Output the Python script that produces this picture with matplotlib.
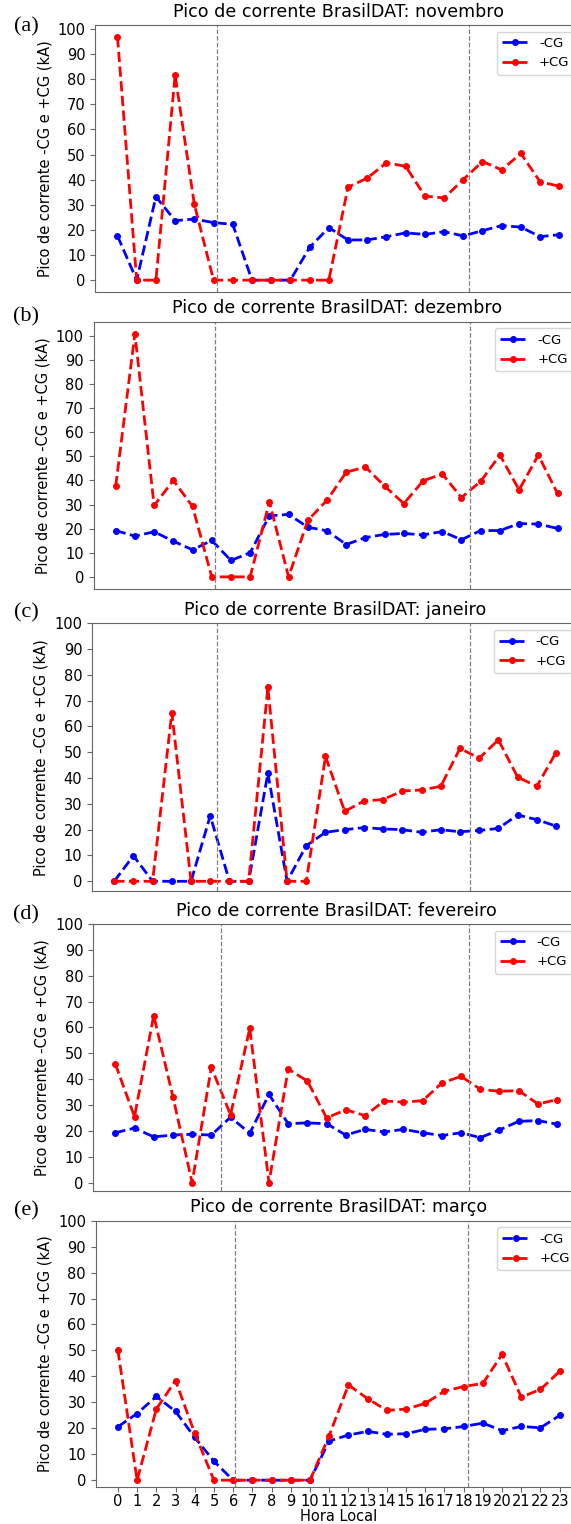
import numpy as np
import matplotlib
matplotlib.use('Agg')
import matplotlib.pyplot as plt

hours = list(range(24))
months = ['novembro', 'dezembro', 'janeiro', 'fevereiro', 'março']
letters = ['(a)', '(b)', '(c)', '(d)', '(e)']

# peak current (kA) per local hour
neg_nov = [17.6, 0, 33.2, 23.7, 24.3, 22.9, 22.2, 0, 0, 0, 13.0, 20.9,
           16.0, 16.0, 17.3, 18.8, 18.2, 19.3, 17.6, 19.7, 21.7, 21.1, 17.3, 18.1]
pos_nov = [96.7, 0, 0, 81.6, 30.2, 0, 0, 0, 0, 0, 0, 0,
           37.0, 40.6, 46.7, 45.3, 33.5, 32.7, 40.0, 47.2, 43.9, 50.4, 39.1, 37.4]

neg_dez = [19.2, 16.9, 18.7, 14.8, 11.2, 15.1, 6.8, 10.0, 25.3, 25.9, 20.6, 19.1,
           13.4, 16.3, 17.6, 18.0, 17.4, 18.8, 15.4, 19.2, 19.2, 22.1, 21.9, 20.1]
pos_dez = [37.6, 100.8, 29.6, 40.0, 29.2, 0, 0, 0, 31.1, 0, 23.4, 31.8,
           43.4, 45.6, 37.6, 30.4, 39.8, 42.7, 32.9, 39.6, 50.5, 36.1, 50.5, 34.6]

neg_jan = [0, 9.9, 0, 0, 0, 25.4, 0, 0, 41.9, 0, 13.8, 19.0,
           20.0, 20.8, 20.3, 20.0, 19.0, 20.0, 19.2, 19.7, 20.5, 25.7, 23.9, 21.4]
pos_jan = [0, 0, 0, 65.4, 0, 0, 0, 0, 75.2, 0, 0, 48.4,
           27.1, 31.1, 31.7, 35.0, 35.4, 36.8, 51.5, 47.7, 54.8, 40.4, 36.8, 49.9]

neg_fev = [19.3, 21.1, 17.7, 18.4, 18.7, 18.4, 25.3, 19.1, 34.1, 22.8, 23.1, 22.8,
           18.4, 20.6, 19.6, 20.6, 19.3, 18.2, 19.3, 17.4, 20.4, 23.7, 24.0, 22.6]
pos_fev = [45.9, 25.5, 64.6, 33.2, 0, 44.6, 26.2, 59.7, 0, 43.9, 39.3, 25.0,
           28.2, 25.9, 31.6, 31.1, 31.7, 38.5, 41.1, 36.1, 35.3, 35.6, 30.4, 32.1]

neg_mar = [20.6, 25.7, 32.3, 26.5, 16.5, 7.3, 0, 0, 0, 0, 0, 15.1,
           17.4, 18.8, 17.7, 17.9, 19.6, 19.8, 20.7, 22.0, 19.1, 20.7, 20.2, 25.0]
pos_mar = [50.1, 0, 27.4, 38.4, 18.1, 0, 0, 0, 0, 0, 0, 17.2,
           36.7, 31.4, 26.9, 27.4, 29.6, 34.3, 36.1, 37.3, 48.5, 32.0, 35.0, 42.0]

neg_cg = [neg_nov, neg_dez, neg_jan, neg_fev, neg_mar]
pos_cg = [pos_nov, pos_dez, pos_jan, pos_fev, pos_mar]

# sunrise / sunset (local hour)
sunrise = [5.16, 5.15, 5.36, 5.51, 6.11]
sunset = [18.28, 18.44, 18.51, 18.42, 18.20]

W, H = 571, 1524
# axes boxes in pixels: left, top, bottom (right side runs off the page)
boxes = [(95.4, 25, 292.3), (93.6, 321.7, 589), (92.1, 623.3, 891),
         (93.2, 924, 1191), (95.8, 1220.7, 1486.7)]
label_y = [26.5, 317, 613, 914.5, 1210.5]
axw = 486

plt.rcParams['font.size'] = 10.5
fig = plt.figure(figsize=(W / 100, H / 100), dpi=100)

for i, month in enumerate(months):
    left, top, bottom = boxes[i]
    ax = fig.add_axes([left / W, 1 - bottom / H, axw / W, (bottom - top) / H])
    ax.plot(hours, neg_cg[i], color='blue', linestyle='--', marker='o',
            markersize=4, linewidth=2, label='-CG')
    ax.plot(hours, pos_cg[i], color='red', linestyle='--', marker='o',
            markersize=4, linewidth=2, label='+CG')
    ax.axvline(sunrise[i], color='gray', linestyle='--', linewidth=0.9)
    ax.axvline(sunset[i], color='gray', linestyle='--', linewidth=0.9)
    ax.autoscale_view()
    lo, hi = ax.get_ylim()
    ax.set_ylim(lo, max(hi, 100))
    ax.set_yticks(range(0, 101, 10))
    ax.set_xlim(-1.15, 24.15)
    ax.set_title(f'Pico de corrente BrasilDAT: {month}')
    ax.set_ylabel('Pico de corrente -CG e +CG (kA)')
    ax.legend(loc='upper right', fontsize=9.5)
    for s in ax.spines.values():
        s.set_color('0.4')
    ax.tick_params(color='0.4')
    if i == len(months) - 1:
        ax.set_xticks(hours)
        ax.tick_params(axis='x', pad=1.5)
        ax.set_xlabel('Hora Local', labelpad=0)
    else:
        ax.set_xticks([])
    fig.text(26 / W, 1 - label_y[i] / H, letters[i], family='Liberation Serif',
             fontsize=16, ha='center', va='center')

fig.savefig('out.png', dpi=100)
